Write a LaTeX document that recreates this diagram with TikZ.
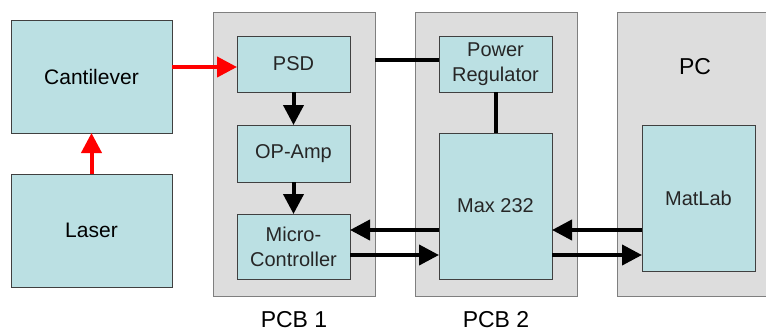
\documentclass[tikz,border=0pt]{standalone}
\usepackage{fontspec}
\setmainfont{Liberation Sans}
\usepackage{tikz}
\usetikzlibrary{arrows.meta,positioning}
\definecolor{cBox}{HTML}{BBE0E3}
\definecolor{cPanel}{HTML}{DDDDDD}
\definecolor{cPanelLine}{HTML}{7F7F7F}
\definecolor{cBoxLine}{HTML}{404040}
\definecolor{cBeam}{HTML}{FF0000}
\tikzset{
  blk/.style  ={draw=cBoxLine, fill=cBox, line width=0.8pt, align=center,
                inner sep=2pt, outer sep=0pt, text=black!85,
                font=\fontsize{20}{25}\selectfont},
  panel/.style={draw=cPanelLine, fill=cPanel, line width=0.8pt,
                inner sep=0pt, outer sep=0pt},
  title/.style={font=\fontsize{23}{26}\selectfont},
  beam/.style ={-{Triangle[length=20pt,width=20pt]}, line width=4pt, draw=cBeam},
  sig/.style  ={-{Triangle[length=20pt,width=20pt]}, line width=4pt, draw=black},
  wire/.style ={line width=4pt, draw=black},
}
\begin{document}
\begin{tikzpicture}[x=1pt, y=-1pt]
  \useasboundingbox (0,0) rectangle (766,335);
  % panels
  \node[panel, minimum width=162pt, minimum height=284pt] (pcbA) at (294,154){};
  \node[panel, minimum width=162pt, minimum height=284pt] (pcbB) at (496,154){};
  \node[panel, minimum width=156pt, minimum height=284pt] (pc)   at (695,154){};
  % blocks
  \node[blk, minimum width=161pt, minimum height=113pt, font=\fontsize{21}{24}\selectfont, text=black] (cant)  at (91.5,76.5){Cantilever};
  \node[blk, minimum width=161pt, minimum height=113pt, font=\fontsize{21}{24}\selectfont, text=black] (laser) at (91.5,230.5){Laser};
  \node[blk, minimum width=113pt, minimum height=56pt] (psd)   at (293.5,64){PSD};
  \node[blk, minimum width=113pt, minimum height=57pt] (opamp) at (293.5,153.5){OP-Amp};
  \node[blk, minimum width=113pt, minimum height=65pt] (micro) at (293.5,246.5){Micro-\\Controller};
  \node[blk, minimum width=113pt, minimum height=56pt] (preg)  at (495.5,64){Power\\Regulator};
  \node[blk, minimum width=113pt, minimum height=146pt] (max)  at (495.5,206){Max 232};
  \node[blk, minimum width=113pt, minimum height=146pt] (mlab) at (698.5,198){MatLab};
  % titles
  \node[title] (pcTitle) at (695,67){PC};
  \node[title, below=12pt of pcbA] (pcbAName){PCB 1};
  \node[title, below=12pt of pcbB] (pcbBName){PCB 2};
  % connectors
  \draw[beam] (laser) -- (cant);
  \draw[beam] (cant.east |- 0,67) -- (psd.west |- 0,67);
  \draw[sig] (psd) -- (opamp);
  \draw[sig] (opamp) -- (micro);
  \draw[wire] (pcbA.east |- 0,60) -- (preg.west |- 0,60);
  \draw[wire] (preg) -- (max);
  \draw[sig] (max.west |- 0,230) -- (micro.east |- 0,230);
  \draw[sig] (micro.east |- 0,255) -- (max.west |- 0,255);
  \draw[sig] (mlab.west |- 0,230) -- (max.east |- 0,230);
  \draw[sig] (max.east |- 0,255) -- (mlab.west |- 0,255);
\end{tikzpicture}
\end{document}
